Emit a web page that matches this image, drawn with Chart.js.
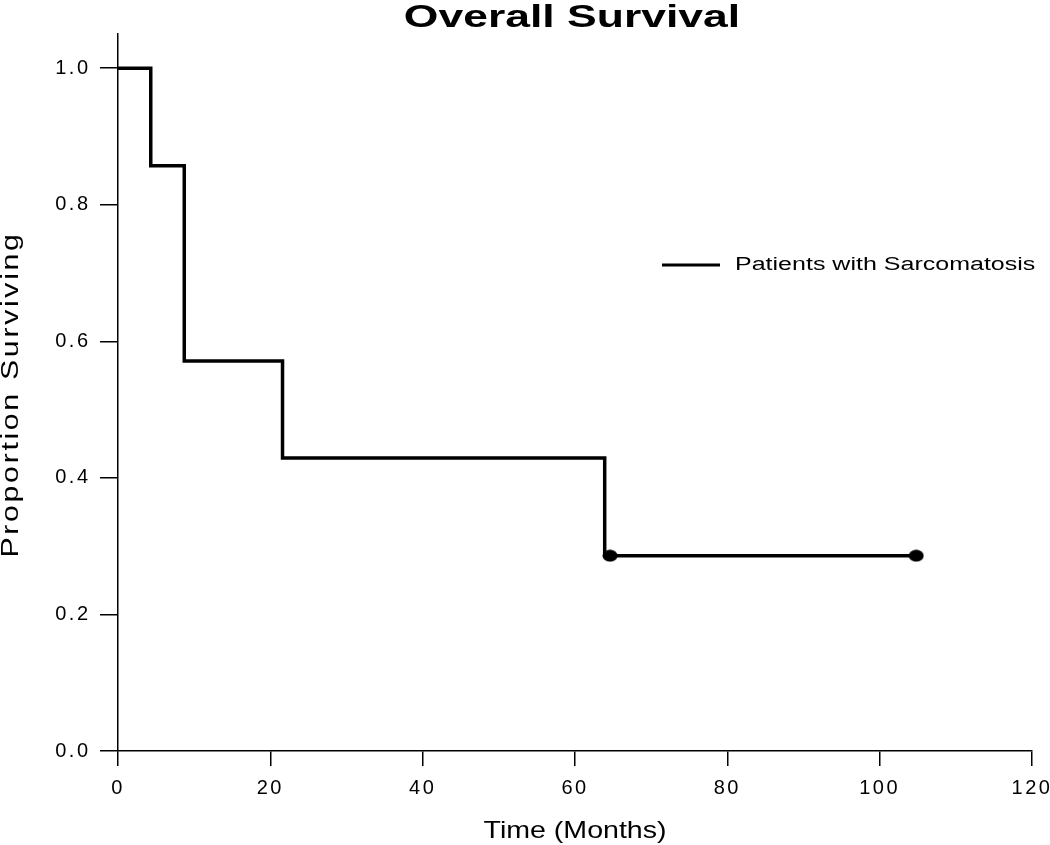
<!DOCTYPE html>
<html>
<head>
<meta charset="utf-8">
<script src="https://cdn.jsdelivr.net/npm/chart.js@4.4.1/dist/chart.umd.min.js"></script>
<style>
  html, body { margin: 0; padding: 0; background: #fff; }
  #c { display: block; }
</style>
</head>
<body>
<canvas id="c" width="1050" height="845"></canvas>
<script>
// ---- Data ----
const chartTitle = 'Overall Survival';
const xAxisTitle = 'Time (Months)';
const yAxisTitle = 'Proportion Surviving';
const seriesLabel = 'Patients with Sarcomatosis';

// Kaplan-Meier step points: time (months) and survival proportion
const eventTimes = [0, 4.3, 8.7, 21.6, 63.9, 104.8];
const survival   = [1.0, 0.857, 0.571, 0.429, 0.286, 0.286];

// Censored observations
const censorTimes    = [64.6, 104.8];
const censorSurvival = [0.286, 0.286];

// Axis ticks
const xTickValues = [0, 20, 40, 60, 80, 100, 120];
const yTickValues = [0.0, 0.2, 0.4, 0.6, 0.8, 1.0];

const FONT = '"Liberation Sans", Arial, Helvetica, sans-serif';

const stepData = eventTimes.map((t, i) => ({ x: t, y: survival[i] }));
const censorData = censorTimes.map((t, i) => ({ x: t, y: censorSurvival[i] }));

// Elliptical censor marker (reference marks are slightly wider than tall)
const censorMark = document.createElement('canvas');
censorMark.width = 16; censorMark.height = 13;
(function () {
  const g = censorMark.getContext('2d');
  g.fillStyle = '#000';
  g.beginPath();
  g.ellipse(8, 6.5, 7.5, 6, 0, 0, Math.PI * 2);
  g.fill();
})();

const spacingPlugin = {
  id: 'spacing',
  beforeLayout(chart) { chart.ctx.letterSpacing = '2.5px'; },
  beforeDraw(chart) { chart.ctx.letterSpacing = '2.5px'; }
};

function stretchedText(ctx, text, x, y, sx, align, rotate) {
  ctx.save();
  ctx.translate(x, y);
  if (rotate) ctx.rotate(rotate);
  ctx.scale(sx, 1);
  ctx.textAlign = align;
  ctx.textBaseline = 'alphabetic';
  ctx.fillText(text, 0, 0);
  ctx.restore();
}

const textPlugin = {
  id: 'texts',
  afterDraw(chart) {
    const { ctx, chartArea: a } = chart;
    const cx = (a.left + a.right) / 2;
    ctx.save();
    ctx.fillStyle = '#000';
    ctx.letterSpacing = '0px';

    // Main title
    ctx.font = 'bold 32px ' + FONT;
    stretchedText(ctx, chartTitle, cx - 3, 27, 1.39, 'center');

    // X axis title
    ctx.font = '24px ' + FONT;
    stretchedText(ctx, xAxisTitle, cx, 838, 1.19, 'center');

    // Y axis title (rotated)
    ctx.font = '23px ' + FONT;
    ctx.letterSpacing = '2px';
    stretchedText(ctx, yAxisTitle, 18, 394.5, 1.32, 'center', -Math.PI / 2);
    ctx.letterSpacing = '0px';

    // Legend
    const ds = chart.data.datasets[0];
    ctx.strokeStyle = ds.borderColor;
    ctx.lineWidth = 3;
    ctx.beginPath();
    ctx.moveTo(662, 265);
    ctx.lineTo(720, 265);
    ctx.stroke();
    ctx.font = '18px ' + FONT;
    stretchedText(ctx, ds.label, 735, 270, 1.39, 'left');

    ctx.restore();
  }
};

new Chart(document.getElementById('c'), {
  type: 'scatter',
  data: {
    datasets: [
      {
        label: seriesLabel,
        data: stepData,
        showLine: true,
        stepped: true,
        borderColor: '#000',
        borderWidth: 3.5,
        pointRadius: 0,
        fill: false,
        borderJoinStyle: 'miter'
      },
      {
        label: 'Censored',
        data: censorData,
        showLine: false,
        pointStyle: censorMark,
        pointRadius: 6,
        backgroundColor: '#000',
        borderColor: '#000',
        borderWidth: 0
      }
    ]
  },
  options: {
    responsive: false,
    animation: false,
    events: [],
    layout: { padding: { top: 34, right: 18, left: 0, bottom: 0 } },
    plugins: {
      legend: { display: false },
      title: { display: false },
      tooltip: { enabled: false }
    },
    scales: {
      x: {
        type: 'linear',
        min: 0,
        max: 120,
        afterBuildTicks(scale) { scale.ticks = xTickValues.map(v => ({ value: v })); },
        afterFit(scale) { scale.height = 94; scale.paddingLeft = 0; scale.paddingRight = 0; },
        ticks: {
          color: '#000',
          font: { family: FONT, size: 20 },
          padding: 10,
          maxRotation: 0,
          callback: (v) => String(v)
        },
        grid: {
          drawOnChartArea: false,
          drawTicks: true,
          tickLength: 15,
          tickWidth: 1.5,
          tickColor: '#000',
          color: '#000',
          lineWidth: 1.5
        },
        border: { display: true, color: '#000', width: 1.5 },
        title: { display: false }
      },
      y: {
        type: 'linear',
        min: 0,
        max: 1.05,
        afterBuildTicks(scale) { scale.ticks = yTickValues.map(v => ({ value: v })); },
        afterFit(scale) { scale.width = 118; scale.paddingTop = 0; scale.paddingBottom = 0; },
        ticks: {
          color: '#000',
          font: { family: FONT, size: 20 },
          padding: 9.5,
          callback: (v) => Number(v).toFixed(1)
        },
        grid: {
          drawOnChartArea: false,
          drawTicks: true,
          tickLength: 18,
          tickWidth: 1.5,
          tickColor: '#000',
          color: '#000',
          lineWidth: 1.5
        },
        border: { display: true, color: '#000', width: 1.5 },
        title: { display: false }
      }
    }
  },
  plugins: [spacingPlugin, textPlugin]
});
</script>
</body>
</html>
